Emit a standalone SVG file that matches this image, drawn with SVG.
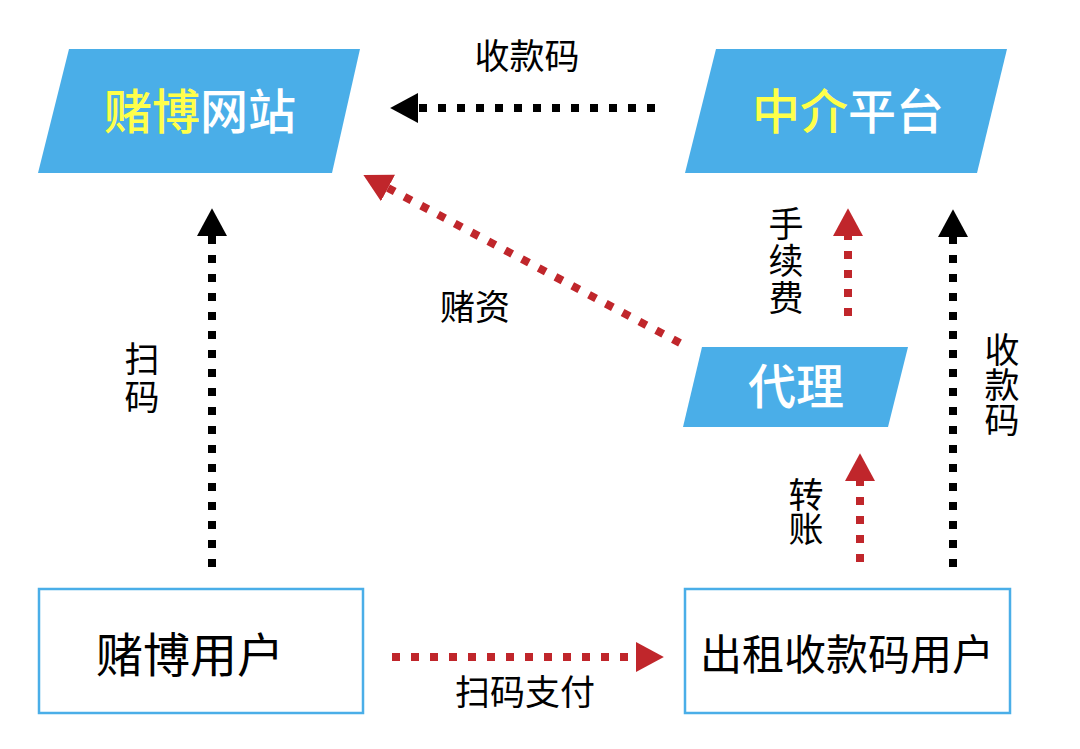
<svg xmlns="http://www.w3.org/2000/svg" width="1080" height="749" viewBox="0 0 1080 749">
<style>
text{font-family:"Noto Sans CJK SC","Noto Sans",sans-serif;text-anchor:middle}
.para{fill:#4AAEE8}
.box{fill:#fff;stroke:#4AAEE8;stroke-width:2.5}
.big{font-size:48px;fill:#fff;font-weight:500}
.yel{fill:#FFFF4A}
.blk{fill:#000}
.lab{font-size:35px;fill:#000}
.dk{stroke:#000;stroke-width:8;stroke-dasharray:8 11;fill:none}
.dr{stroke:#C0262B;stroke-width:8;stroke-dasharray:8 11;fill:none}
</style>
<defs>
<marker id="ab" markerUnits="userSpaceOnUse" markerWidth="28" markerHeight="30" refX="0" refY="14" orient="auto" viewBox="0 0 26 28"><path d="M0,0 L26,14 L0,28 z" fill="#000"/></marker>
<marker id="ar" markerUnits="userSpaceOnUse" markerWidth="28" markerHeight="30" refX="0" refY="14" orient="auto" viewBox="0 0 26 28"><path d="M0,0 L26,14 L0,28 z" fill="#C0262B"/></marker>
</defs>
<rect width="1080" height="749" fill="#fff"/>
<g id="connectors">
<line class="dk" x1="655" y1="108" x2="418" y2="108" marker-end="url(#ab)"/>
<line class="dk" x1="212" y1="567" x2="212" y2="236" marker-end="url(#ab)"/>
<line class="dr" x1="680" y1="343" x2="388" y2="188" marker-end="url(#ar)"/>
<line class="dr" x1="848" y1="316" x2="848" y2="236" marker-end="url(#ar)"/>
<line class="dr" x1="860" y1="562" x2="860" y2="481" marker-end="url(#ar)"/>
<line class="dk" x1="953" y1="567" x2="953" y2="237" marker-end="url(#ab)"/>
<line class="dr" x1="392" y1="657" x2="636" y2="657" marker-end="url(#ar)"/>
<text class="lab" x="527" y="69">收款码</text>
<text class="lab" x="142" y="372">扫<tspan x="142" dy="38">码</tspan></text>
<text class="lab" x="475" y="320">赌资</text>
<text class="lab" x="786" y="237">手<tspan x="786" dy="37">续</tspan><tspan x="786" dy="37">费</tspan></text>
<text class="lab" x="806" y="508">转<tspan x="806" dy="34">账</tspan></text>
<text class="lab" x="1002" y="363">收<tspan x="1002" dy="35">款</tspan><tspan x="1002" dy="35">码</tspan></text>
<text class="lab" x="525" y="705">扫码支付</text>
</g>
<g id="gambling-site">
<polygon class="para" points="69,49 360,49 332,173 38,173"/>
<text class="big" x="200" y="129"><tspan class="yel">赌博</tspan>网站</text>
</g>
<g id="agency-platform">
<polygon class="para" points="716,49 1007,49 977,173 685,173"/>
<text class="big" x="848" y="129"><tspan class="yel">中介</tspan>平台</text>
</g>
<g id="agent">
<polygon class="para" points="702,347 908,347 888,427 683,427"/>
<text class="big" x="796" y="404">代理</text>
</g>
<g id="gambling-user">
<rect class="box" x="39" y="589" width="324" height="124"/>
<text class="blk" x="190" y="672" style="font-size:47px">赌博用户</text>
</g>
<g id="rental-user">
<rect class="box" x="685" y="589" width="325" height="124"/>
<text class="blk" x="847" y="670" style="font-size:42px">出租收款码用户</text>
</g>
</svg>
